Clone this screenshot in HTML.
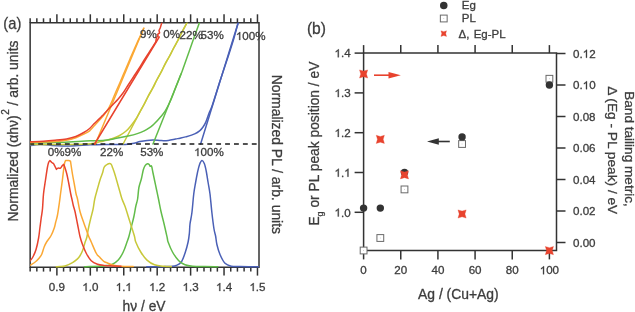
<!DOCTYPE html>
<html><head><meta charset="utf-8"><style>
html,body{margin:0;padding:0;background:#fff;}
svg{display:block;will-change:transform;}
svg text{font-family:"Liberation Sans",sans-serif;stroke:#3d3d3d;stroke-width:0.3px;}
</style></head><body>
<svg width="635" height="312" viewBox="0 0 635 312">
<rect width="635" height="312" fill="#fff"/>
<defs><clipPath id="ca"><rect x="30.15" y="22.70" width="228.85" height="245.50"/></clipPath></defs>
<g stroke="#333333" stroke-width="1.5" fill="none" stroke-linecap="butt">
<path d="M30.15,22.70 L259.00,22.70 L259.00,267.20 L30.15,267.20 Z"/>
<line x1="30.15" y1="267.20" x2="30.15" y2="271.60"/>
<line x1="30.15" y1="22.70" x2="30.15" y2="18.30"/>
<line x1="36.84" y1="267.20" x2="36.84" y2="271.60"/>
<line x1="36.84" y1="22.70" x2="36.84" y2="18.30"/>
<line x1="43.52" y1="267.20" x2="43.52" y2="271.60"/>
<line x1="43.52" y1="22.70" x2="43.52" y2="18.30"/>
<line x1="50.21" y1="267.20" x2="50.21" y2="271.60"/>
<line x1="50.21" y1="22.70" x2="50.21" y2="18.30"/>
<line x1="56.89" y1="267.20" x2="56.89" y2="275.60"/>
<line x1="56.89" y1="22.70" x2="56.89" y2="14.30"/>
<line x1="63.58" y1="267.20" x2="63.58" y2="271.60"/>
<line x1="63.58" y1="22.70" x2="63.58" y2="18.30"/>
<line x1="70.27" y1="267.20" x2="70.27" y2="271.60"/>
<line x1="70.27" y1="22.70" x2="70.27" y2="18.30"/>
<line x1="76.95" y1="267.20" x2="76.95" y2="271.60"/>
<line x1="76.95" y1="22.70" x2="76.95" y2="18.30"/>
<line x1="83.64" y1="267.20" x2="83.64" y2="271.60"/>
<line x1="83.64" y1="22.70" x2="83.64" y2="18.30"/>
<line x1="90.32" y1="267.20" x2="90.32" y2="275.60"/>
<line x1="90.32" y1="22.70" x2="90.32" y2="14.30"/>
<line x1="97.01" y1="267.20" x2="97.01" y2="271.60"/>
<line x1="97.01" y1="22.70" x2="97.01" y2="18.30"/>
<line x1="103.70" y1="267.20" x2="103.70" y2="271.60"/>
<line x1="103.70" y1="22.70" x2="103.70" y2="18.30"/>
<line x1="110.38" y1="267.20" x2="110.38" y2="271.60"/>
<line x1="110.38" y1="22.70" x2="110.38" y2="18.30"/>
<line x1="117.07" y1="267.20" x2="117.07" y2="271.60"/>
<line x1="117.07" y1="22.70" x2="117.07" y2="18.30"/>
<line x1="123.75" y1="267.20" x2="123.75" y2="275.60"/>
<line x1="123.75" y1="22.70" x2="123.75" y2="14.30"/>
<line x1="130.44" y1="267.20" x2="130.44" y2="271.60"/>
<line x1="130.44" y1="22.70" x2="130.44" y2="18.30"/>
<line x1="137.13" y1="267.20" x2="137.13" y2="271.60"/>
<line x1="137.13" y1="22.70" x2="137.13" y2="18.30"/>
<line x1="143.81" y1="267.20" x2="143.81" y2="271.60"/>
<line x1="143.81" y1="22.70" x2="143.81" y2="18.30"/>
<line x1="150.50" y1="267.20" x2="150.50" y2="271.60"/>
<line x1="150.50" y1="22.70" x2="150.50" y2="18.30"/>
<line x1="157.18" y1="267.20" x2="157.18" y2="275.60"/>
<line x1="157.18" y1="22.70" x2="157.18" y2="14.30"/>
<line x1="163.87" y1="267.20" x2="163.87" y2="271.60"/>
<line x1="163.87" y1="22.70" x2="163.87" y2="18.30"/>
<line x1="170.56" y1="267.20" x2="170.56" y2="271.60"/>
<line x1="170.56" y1="22.70" x2="170.56" y2="18.30"/>
<line x1="177.24" y1="267.20" x2="177.24" y2="271.60"/>
<line x1="177.24" y1="22.70" x2="177.24" y2="18.30"/>
<line x1="183.93" y1="267.20" x2="183.93" y2="271.60"/>
<line x1="183.93" y1="22.70" x2="183.93" y2="18.30"/>
<line x1="190.61" y1="267.20" x2="190.61" y2="275.60"/>
<line x1="190.61" y1="22.70" x2="190.61" y2="14.30"/>
<line x1="197.30" y1="267.20" x2="197.30" y2="271.60"/>
<line x1="197.30" y1="22.70" x2="197.30" y2="18.30"/>
<line x1="203.99" y1="267.20" x2="203.99" y2="271.60"/>
<line x1="203.99" y1="22.70" x2="203.99" y2="18.30"/>
<line x1="210.67" y1="267.20" x2="210.67" y2="271.60"/>
<line x1="210.67" y1="22.70" x2="210.67" y2="18.30"/>
<line x1="217.36" y1="267.20" x2="217.36" y2="271.60"/>
<line x1="217.36" y1="22.70" x2="217.36" y2="18.30"/>
<line x1="224.04" y1="267.20" x2="224.04" y2="275.60"/>
<line x1="224.04" y1="22.70" x2="224.04" y2="14.30"/>
<line x1="230.73" y1="267.20" x2="230.73" y2="271.60"/>
<line x1="230.73" y1="22.70" x2="230.73" y2="18.30"/>
<line x1="237.42" y1="267.20" x2="237.42" y2="271.60"/>
<line x1="237.42" y1="22.70" x2="237.42" y2="18.30"/>
<line x1="244.10" y1="267.20" x2="244.10" y2="271.60"/>
<line x1="244.10" y1="22.70" x2="244.10" y2="18.30"/>
<line x1="250.79" y1="267.20" x2="250.79" y2="271.60"/>
<line x1="250.79" y1="22.70" x2="250.79" y2="18.30"/>
<line x1="257.47" y1="267.20" x2="257.47" y2="275.60"/>
<line x1="257.47" y1="22.70" x2="257.47" y2="14.30"/>
</g>
<g clip-path="url(#ca)" fill="none" stroke-width="1.50" stroke-linejoin="round" stroke-linecap="round">
<path d="M146.70,266.70 C148.92,266.70 156.95,266.72 160.00,266.70 C163.05,266.68 163.12,266.65 165.00,266.60 C166.88,266.55 169.38,266.58 171.25,266.40 C173.12,266.22 174.58,266.23 176.25,265.50 C177.92,264.77 179.79,264.04 181.25,262.00 C182.71,259.96 183.86,256.58 185.00,253.25 C186.14,249.92 187.37,245.38 188.10,242.00 C188.83,238.62 189.08,236.00 189.40,233.00 C189.72,230.00 189.58,227.38 190.00,224.00 C190.42,220.62 191.28,217.75 191.90,212.75 C192.53,207.75 193.13,199.04 193.75,194.00 C194.37,188.96 194.97,186.08 195.60,182.50 C196.22,178.92 196.87,175.42 197.50,172.50 C198.13,169.58 198.67,166.98 199.40,165.00 C200.13,163.02 201.07,160.81 201.90,160.60 C202.73,160.39 203.68,161.97 204.40,163.75 C205.12,165.53 205.63,168.12 206.25,171.25 C206.87,174.38 207.47,178.71 208.10,182.50 C208.72,186.29 209.37,188.96 210.00,194.00 C210.63,199.04 211.23,206.92 211.90,212.75 C212.57,218.58 213.38,225.12 214.00,229.00 C214.62,232.88 215.12,233.42 215.60,236.00 C216.08,238.58 216.17,241.42 216.90,244.50 C217.63,247.58 218.65,251.38 220.00,254.50 C221.35,257.62 223.12,261.30 225.00,263.25 C226.88,265.20 228.75,265.64 231.25,266.20 C233.75,266.76 235.43,266.52 240.00,266.60 C244.57,266.68 255.58,266.68 258.70,266.70" stroke="#4a60b6"/>
<path d="M84.50,266.70 C85.42,266.68 87.42,266.67 90.00,266.60 C92.58,266.53 97.33,266.47 100.00,266.30 C102.67,266.13 104.00,265.90 106.00,265.60 C108.00,265.30 109.96,265.42 112.00,264.50 C114.04,263.58 116.38,262.18 118.25,260.10 C120.12,258.02 121.79,255.02 123.25,252.00 C124.71,248.98 126.06,244.58 127.00,242.00 C127.94,239.42 128.17,239.08 128.90,236.50 C129.63,233.92 130.57,229.83 131.40,226.50 C132.23,223.17 133.18,219.83 133.90,216.50 C134.62,213.17 135.13,209.42 135.75,206.50 C136.37,203.58 137.07,202.17 137.60,199.00 C138.12,195.83 138.27,190.88 138.90,187.50 C139.53,184.12 140.68,181.67 141.40,178.75 C142.12,175.83 142.63,172.19 143.25,170.00 C143.87,167.81 144.38,166.64 145.10,165.60 C145.82,164.56 146.92,163.93 147.60,163.75 C148.28,163.57 148.78,164.08 149.20,164.50 C149.62,164.92 149.70,165.96 150.10,166.25 C150.50,166.54 151.13,165.21 151.60,166.25 C152.07,167.29 152.38,170.00 152.90,172.50 C153.43,175.00 154.13,178.33 154.75,181.25 C155.37,184.17 155.97,187.04 156.60,190.00 C157.22,192.96 157.77,195.42 158.50,199.00 C159.23,202.58 160.07,207.33 161.00,211.50 C161.93,215.67 163.06,219.58 164.10,224.00 C165.14,228.42 166.58,235.00 167.25,238.00 C167.92,241.00 167.22,239.67 168.10,242.00 C168.97,244.33 170.72,248.88 172.50,252.00 C174.28,255.12 176.67,258.62 178.75,260.75 C180.83,262.88 182.71,263.84 185.00,264.75 C187.29,265.66 189.17,265.89 192.50,266.20 C195.83,266.51 200.78,266.52 205.00,266.60 C209.22,266.68 215.67,266.68 217.80,266.70" stroke="#62bc4a"/>
<path d="M56.25,266.70 C56.88,266.68 58.54,266.72 60.00,266.60 C61.46,266.48 62.92,266.67 65.00,266.00 C67.08,265.33 70.42,263.78 72.50,262.60 C74.58,261.42 76.25,260.04 77.50,258.90 C78.75,257.76 79.17,257.11 80.00,255.75 C80.83,254.39 81.67,252.94 82.50,250.75 C83.33,248.56 84.27,244.89 85.00,242.60 C85.73,240.31 86.35,239.27 86.90,237.00 C87.45,234.73 87.68,232.00 88.30,229.00 C88.92,226.00 89.80,222.33 90.60,219.00 C91.40,215.67 92.41,212.33 93.10,209.00 C93.79,205.67 94.02,202.38 94.75,199.00 C95.48,195.62 96.62,191.92 97.50,188.75 C98.38,185.58 99.17,182.61 100.00,180.00 C100.83,177.39 101.83,175.18 102.50,173.10 C103.17,171.02 103.38,168.85 104.00,167.50 C104.62,166.15 105.35,165.67 106.25,165.00 C107.15,164.33 108.57,163.60 109.40,163.50 C110.23,163.40 110.69,163.63 111.25,164.40 C111.81,165.17 112.11,166.33 112.75,168.10 C113.39,169.87 114.29,172.39 115.10,175.00 C115.91,177.61 116.77,180.83 117.60,183.75 C118.43,186.67 119.37,189.96 120.10,192.50 C120.83,195.04 121.17,196.67 122.00,199.00 C122.83,201.33 124.06,203.58 125.10,206.50 C126.14,209.42 127.20,213.17 128.25,216.50 C129.30,219.83 130.36,223.17 131.40,226.50 C132.44,229.83 133.78,233.92 134.50,236.50 C135.22,239.08 134.71,239.42 135.75,242.00 C136.79,244.58 138.88,248.98 140.75,252.00 C142.62,255.02 144.71,257.98 147.00,260.10 C149.29,262.23 151.67,263.72 154.50,264.75 C157.33,265.78 161.20,265.99 164.00,266.30 C166.80,266.61 170.08,266.55 171.30,266.60" stroke="#c8c83a"/>
<path d="M30.15,265.40 C31.04,264.79 33.98,262.98 35.50,261.75 C37.02,260.52 38.21,259.25 39.25,258.00 C40.29,256.75 40.92,256.12 41.75,254.25 C42.58,252.38 43.42,248.83 44.25,246.75 C45.08,244.67 45.61,243.62 46.75,241.75 C47.89,239.88 49.85,237.79 51.10,235.50 C52.35,233.21 53.50,230.17 54.25,228.00 C55.00,225.83 55.06,224.67 55.60,222.50 C56.14,220.33 56.87,218.33 57.50,215.00 C58.13,211.67 58.90,206.00 59.40,202.50 C59.90,199.00 60.00,197.75 60.50,194.00 C61.00,190.25 61.77,184.83 62.40,180.00 C63.02,175.17 63.73,168.23 64.25,165.00 C64.77,161.77 65.50,160.60 65.50,160.60 C65.50,160.60 67.77,160.49 68.60,160.60 C69.43,160.71 70.50,161.25 70.50,161.25 C70.50,161.25 71.78,170.00 72.40,173.75 C73.03,177.50 73.63,180.38 74.25,183.75 C74.87,187.12 75.56,191.46 76.10,194.00 C76.64,196.54 76.85,196.08 77.50,199.00 C78.15,201.92 78.96,207.54 80.00,211.50 C81.04,215.46 82.60,219.42 83.75,222.75 C84.90,226.08 86.07,229.21 86.90,231.50 C87.73,233.79 88.03,234.75 88.75,236.50 C89.47,238.25 90.00,239.21 91.25,242.00 C92.50,244.79 94.79,250.65 96.25,253.25 C97.71,255.85 98.75,256.24 100.00,257.60 C101.25,258.96 102.50,260.50 103.75,261.40 C105.00,262.30 106.12,262.44 107.50,263.00 C108.88,263.56 110.33,264.27 112.00,264.75 C113.67,265.23 115.33,265.62 117.50,265.90 C119.67,266.17 122.37,266.28 125.00,266.40 C127.63,266.52 131.92,266.57 133.30,266.60" stroke="#fba834"/>
<path d="M28.00,262.30 C28.32,262.10 29.07,262.03 29.90,261.10 C30.73,260.18 31.97,258.73 33.00,256.75 C34.03,254.78 35.17,252.38 36.10,249.25 C37.03,246.12 37.97,241.54 38.60,238.00 C39.23,234.46 39.47,231.33 39.90,228.00 C40.33,224.67 40.77,221.21 41.20,218.00 C41.63,214.79 42.12,212.75 42.50,208.75 C42.88,204.75 43.00,198.79 43.50,194.00 C44.00,189.21 44.85,184.42 45.50,180.00 C46.15,175.58 46.88,170.42 47.40,167.50 C47.92,164.58 48.18,163.65 48.60,162.50 C49.02,161.35 49.90,160.60 49.90,160.60 C49.90,160.60 51.13,161.97 51.75,162.50 C52.37,163.03 53.08,163.12 53.60,163.75 C54.12,164.38 54.42,165.31 54.90,166.25 C55.38,167.19 56.50,169.40 56.50,169.40 C56.50,169.40 57.33,168.32 58.00,168.10 C58.67,167.88 59.77,168.52 60.50,168.10 C61.23,167.68 61.88,166.22 62.40,165.60 C62.92,164.98 63.60,164.40 63.60,164.40 C63.60,164.40 64.38,165.94 64.90,167.50 C65.43,169.06 66.13,171.25 66.75,173.75 C67.37,176.25 67.93,179.12 68.60,182.50 C69.27,185.88 70.20,191.25 70.75,194.00 C71.30,196.75 71.48,197.08 71.90,199.00 C72.33,200.92 72.78,203.42 73.30,205.50 C73.82,207.58 74.30,208.42 75.00,211.50 C75.70,214.58 76.67,219.83 77.50,224.00 C78.33,228.17 79.17,233.08 80.00,236.50 C80.83,239.92 81.46,241.71 82.50,244.50 C83.54,247.29 84.79,250.54 86.25,253.25 C87.71,255.96 89.38,258.93 91.25,260.75 C93.12,262.57 95.42,263.43 97.50,264.20 C99.58,264.97 101.33,265.12 103.75,265.40 C106.17,265.68 109.12,265.77 112.00,265.90 C114.88,266.03 119.50,266.15 121.00,266.20" stroke="#e8432e"/>
<path d="M28.00,145.60 C28.38,145.58 29.47,145.55 30.30,145.50 C31.13,145.45 32.05,145.43 33.00,145.30 C33.95,145.17 34.83,144.84 36.00,144.70 C37.17,144.56 38.33,144.45 40.00,144.45 C41.67,144.45 44.00,144.54 46.00,144.70 C48.00,144.86 49.17,145.20 52.00,145.40 C54.83,145.60 59.17,145.85 63.00,145.90 C66.83,145.95 70.50,145.88 75.00,145.70 C79.50,145.52 85.00,145.02 90.00,144.80 C95.00,144.58 100.00,144.47 105.00,144.40 C110.00,144.33 116.17,144.43 120.00,144.40 C123.83,144.37 125.67,144.38 128.00,144.20 C130.33,144.02 132.00,143.73 134.00,143.30 C136.00,142.87 137.82,142.08 140.00,141.60 C142.18,141.12 144.85,140.66 147.10,140.40 C149.35,140.14 151.13,140.02 153.50,140.05 C155.87,140.08 158.82,140.54 161.30,140.60 C163.78,140.66 166.03,140.67 168.40,140.40 C170.77,140.13 173.57,139.37 175.50,139.00 C177.43,138.63 178.33,138.55 180.00,138.20 C181.67,137.85 183.05,137.62 185.50,136.90 C187.95,136.18 192.30,134.95 194.70,133.90 C197.10,132.85 198.48,131.80 199.90,130.60 C201.32,129.40 202.22,128.12 203.20,126.70 C204.18,125.28 204.82,124.40 205.80,122.10 C206.78,119.80 208.00,115.75 209.10,112.90 C210.20,110.05 210.58,110.32 212.40,105.00 C214.22,99.68 217.40,89.00 220.00,81.00 C222.60,73.00 225.67,64.17 228.00,57.00 C230.33,49.83 232.32,43.67 234.00,38.00 C235.68,32.33 237.27,26.00 238.10,23.00 C238.93,20.00 238.85,20.50 239.00,20.00" stroke="#4a60b6"/>
<path d="M200.60,144.00 L238.10,23.00" stroke="#4a60b6"/>
<path d="M28.00,144.40 C33.33,144.40 50.00,144.45 60.00,144.40 C70.00,144.35 81.33,144.53 88.00,144.10 C94.67,143.67 97.17,142.38 100.00,141.80 C102.83,141.22 103.02,141.10 105.00,140.60 C106.98,140.10 109.60,139.57 111.90,138.80 C114.20,138.03 116.48,137.25 118.80,136.00 C121.12,134.75 123.68,133.13 125.80,131.30 C127.92,129.47 129.78,127.10 131.50,125.00 C133.22,122.90 134.75,120.82 136.10,118.70 C137.45,116.58 138.22,114.75 139.60,112.30 C140.98,109.85 142.95,106.72 144.39,104.00 C145.82,101.28 146.79,98.67 148.21,96.00 C149.63,93.33 151.51,90.67 152.93,88.00 C154.35,85.33 155.36,82.67 156.75,80.00 C158.14,77.33 159.90,74.67 161.27,72.00 C162.64,69.33 163.57,66.67 164.98,64.00 C166.38,61.33 168.24,58.67 169.70,56.00 C171.16,53.33 172.30,50.67 173.72,48.00 C175.14,45.33 176.87,42.67 178.24,40.00 C179.61,37.33 180.52,34.83 181.96,32.00 C183.40,29.17 185.81,25.00 186.90,23.00 C187.99,21.00 188.23,20.50 188.49,20.00" stroke="#c8c83a"/>
<path d="M123.10,144.00 L186.90,23.00" stroke="#c8c83a"/>
<path d="M28.00,143.20 C28.38,143.18 25.17,143.25 30.30,143.10 C35.43,142.95 50.22,142.62 58.80,142.30 C67.38,141.98 74.10,141.55 81.80,141.20 C89.50,140.85 99.22,140.68 105.00,140.20 C110.78,139.72 112.65,139.00 116.50,138.30 C120.35,137.60 124.63,136.78 128.10,136.00 C131.57,135.22 134.62,134.47 137.30,133.60 C139.98,132.73 142.08,131.85 144.20,130.80 C146.32,129.75 148.40,128.38 150.00,127.30 C151.60,126.22 151.93,126.15 153.80,124.30 C155.67,122.45 159.23,118.53 161.20,116.20 C163.17,113.87 164.00,113.00 165.60,110.30 C167.20,107.60 168.95,104.22 170.80,100.00 C172.65,95.78 174.73,90.00 176.70,85.00 C178.67,80.00 180.73,75.00 182.60,70.00 C184.47,65.00 186.18,59.87 187.90,55.00 C189.62,50.13 191.48,44.80 192.90,40.80 C194.32,36.80 195.33,33.98 196.40,31.00 C197.47,28.02 198.65,24.73 199.30,22.90 C199.95,21.07 200.13,20.48 200.30,20.00" stroke="#62bc4a"/>
<path d="M153.00,144.00 L181.00,74.00" stroke="#62bc4a"/>
<line x1="30.15" y1="144.0" x2="259.00" y2="144.0" stroke="#1a1a1a" stroke-width="1.5" stroke-dasharray="4.85 4.05" stroke-dashoffset="0.85" stroke-linecap="butt"/>
<path d="M28.00,142.45 C28.38,142.44 25.80,142.56 30.30,142.40 C34.80,142.24 49.05,141.87 55.00,141.50 C60.95,141.13 62.53,140.83 66.00,140.20 C69.47,139.57 72.83,138.70 75.80,137.70 C78.77,136.70 81.50,135.35 83.80,134.20 C86.10,133.05 87.90,132.15 89.60,130.80 C91.30,129.45 92.31,127.93 94.00,126.10 C95.69,124.27 98.00,121.78 99.75,119.80 C101.50,117.82 103.03,116.12 104.50,114.20 C105.97,112.28 107.43,110.28 108.60,108.30 C109.77,106.32 110.68,104.10 111.50,102.30 C112.32,100.50 112.75,99.30 113.50,97.50 C114.25,95.70 114.92,94.00 116.00,91.50 C117.08,89.00 118.67,85.58 120.00,82.50 C121.33,79.42 122.83,75.75 124.00,73.00 C125.17,70.25 126.00,68.33 127.00,66.00 C128.00,63.67 129.00,61.33 130.00,59.00 C131.00,56.67 131.83,54.67 133.00,52.00 C134.17,49.33 135.75,45.75 137.00,43.00 C138.25,40.25 139.38,37.95 140.50,35.50 C141.62,33.05 143.21,29.50 143.75,28.30" stroke="#fba834"/>
<path d="M95.30,144.00 L143.75,28.30" stroke="#fba834"/>
<path d="M28.00,141.85 C28.38,141.84 27.73,141.89 30.30,141.80 C32.87,141.71 39.28,141.55 43.40,141.30 C47.52,141.05 51.15,140.70 55.00,140.30 C58.85,139.90 63.03,139.53 66.50,138.90 C69.97,138.27 72.92,137.57 75.80,136.50 C78.68,135.43 81.50,133.83 83.80,132.50 C86.10,131.17 87.90,129.95 89.60,128.50 C91.30,127.05 92.31,125.48 94.00,123.80 C95.69,122.12 98.08,120.05 99.75,118.40 C101.42,116.75 102.04,115.97 104.00,113.90 C105.96,111.83 109.13,108.48 111.50,106.00 C113.87,103.52 116.16,101.33 118.20,99.00 C120.24,96.67 122.03,94.42 123.75,92.00 C125.47,89.58 126.83,87.08 128.50,84.50 C130.17,81.92 132.00,79.17 133.75,76.50 C135.50,73.83 137.26,71.25 139.00,68.50 C140.74,65.75 142.37,62.92 144.20,60.00 C146.03,57.08 148.07,54.03 150.00,51.00 C151.93,47.97 154.83,43.33 155.80,41.80" stroke="#e8432e"/>
<path d="M155.80,41.80 L156.40,37.50 L158.20,36.20 L157.40,34.60 L159.60,32.80 L159.00,30.50 L160.20,28.00 L161.50,23.80 L162.50,20.00" stroke="#e8432e"/>
<path d="M94.60,144.00 L159.20,37.00" stroke="#e8432e"/>
</g>
<text x="56.89" y="291.00" font-size="11.60" text-anchor="middle" fill="#3d3d3d" >0.9</text>
<text x="90.32" y="291.00" font-size="11.60" text-anchor="middle" fill="#3d3d3d" ><tspan style="fill:none;stroke:none">1</tspan>.0</text><path transform="translate(82.261,291.000) scale(0.00566,-0.00566)" d="M763,0 L583,0 L583,1100 C540,1060 483,1020 413,981 C343,942 280,913 223,893 L223,1060 C324,1105 412,1160 487,1225 C562,1290 615,1350 646,1409 L763,1409 Z" fill="#3d3d3d" stroke="#3d3d3d" stroke-width="53.0"/>
<text x="123.75" y="291.00" font-size="11.60" text-anchor="middle" fill="#3d3d3d" ><tspan style="fill:none;stroke:none">1</tspan>.<tspan style="fill:none;stroke:none">1</tspan></text><path transform="translate(115.691,291.000) scale(0.00566,-0.00566)" d="M763,0 L583,0 L583,1100 C540,1060 483,1020 413,981 C343,942 280,913 223,893 L223,1060 C324,1105 412,1160 487,1225 C562,1290 615,1350 646,1409 L763,1409 Z" fill="#3d3d3d" stroke="#3d3d3d" stroke-width="53.0"/><path transform="translate(125.365,291.000) scale(0.00566,-0.00566)" d="M763,0 L583,0 L583,1100 C540,1060 483,1020 413,981 C343,942 280,913 223,893 L223,1060 C324,1105 412,1160 487,1225 C562,1290 615,1350 646,1409 L763,1409 Z" fill="#3d3d3d" stroke="#3d3d3d" stroke-width="53.0"/>
<text x="157.18" y="291.00" font-size="11.60" text-anchor="middle" fill="#3d3d3d" ><tspan style="fill:none;stroke:none">1</tspan>.2</text><path transform="translate(149.121,291.000) scale(0.00566,-0.00566)" d="M763,0 L583,0 L583,1100 C540,1060 483,1020 413,981 C343,942 280,913 223,893 L223,1060 C324,1105 412,1160 487,1225 C562,1290 615,1350 646,1409 L763,1409 Z" fill="#3d3d3d" stroke="#3d3d3d" stroke-width="53.0"/>
<text x="190.61" y="291.00" font-size="11.60" text-anchor="middle" fill="#3d3d3d" ><tspan style="fill:none;stroke:none">1</tspan>.3</text><path transform="translate(182.551,291.000) scale(0.00566,-0.00566)" d="M763,0 L583,0 L583,1100 C540,1060 483,1020 413,981 C343,942 280,913 223,893 L223,1060 C324,1105 412,1160 487,1225 C562,1290 615,1350 646,1409 L763,1409 Z" fill="#3d3d3d" stroke="#3d3d3d" stroke-width="53.0"/>
<text x="224.04" y="291.00" font-size="11.60" text-anchor="middle" fill="#3d3d3d" ><tspan style="fill:none;stroke:none">1</tspan>.4</text><path transform="translate(215.981,291.000) scale(0.00566,-0.00566)" d="M763,0 L583,0 L583,1100 C540,1060 483,1020 413,981 C343,942 280,913 223,893 L223,1060 C324,1105 412,1160 487,1225 C562,1290 615,1350 646,1409 L763,1409 Z" fill="#3d3d3d" stroke="#3d3d3d" stroke-width="53.0"/>
<text x="257.47" y="291.00" font-size="11.60" text-anchor="middle" fill="#3d3d3d" ><tspan style="fill:none;stroke:none">1</tspan>.5</text><path transform="translate(249.411,291.000) scale(0.00566,-0.00566)" d="M763,0 L583,0 L583,1100 C540,1060 483,1020 413,981 C343,942 280,913 223,893 L223,1060 C324,1105 412,1160 487,1225 C562,1290 615,1350 646,1409 L763,1409 Z" fill="#3d3d3d" stroke="#3d3d3d" stroke-width="53.0"/>
<text x="144.10" y="310.90" font-size="13.80" text-anchor="middle" fill="#3d3d3d" >h&#957; / eV</text>
<text x="140.00" y="38.20" font-size="11.60" text-anchor="start" fill="#3d3d3d" >9%</text>
<text x="163.20" y="38.20" font-size="11.60" text-anchor="start" fill="#3d3d3d" >0%</text>
<text x="179.60" y="38.50" font-size="11.60" text-anchor="start" fill="#3d3d3d" >22%</text>
<text x="200.60" y="39.20" font-size="11.60" text-anchor="start" fill="#3d3d3d" >53%</text>
<text x="235.90" y="40.00" font-size="11.60" text-anchor="start" fill="#3d3d3d" ><tspan style="fill:none;stroke:none">1</tspan>00%</text><path transform="translate(235.900,40.000) scale(0.00566,-0.00566)" d="M763,0 L583,0 L583,1100 C540,1060 483,1020 413,981 C343,942 280,913 223,893 L223,1060 C324,1105 412,1160 487,1225 C562,1290 615,1350 646,1409 L763,1409 Z" fill="#3d3d3d" stroke="#3d3d3d" stroke-width="53.0"/>
<text x="47.70" y="156.10" font-size="11.60" text-anchor="start" fill="#3d3d3d" >0%9%</text>
<text x="100.00" y="156.10" font-size="11.60" text-anchor="start" fill="#3d3d3d" >22%</text>
<text x="140.20" y="156.10" font-size="11.60" text-anchor="start" fill="#3d3d3d" >53%</text>
<text x="194.10" y="156.10" font-size="11.60" text-anchor="start" fill="#3d3d3d" ><tspan style="fill:none;stroke:none">1</tspan>00%</text><path transform="translate(194.100,156.100) scale(0.00566,-0.00566)" d="M763,0 L583,0 L583,1100 C540,1060 483,1020 413,981 C343,942 280,913 223,893 L223,1060 C324,1105 412,1160 487,1225 C562,1290 615,1350 646,1409 L763,1409 Z" fill="#3d3d3d" stroke="#3d3d3d" stroke-width="53.0"/>
<text transform="translate(3.3,29.1) scale(0.85,1)" font-size="17.4" fill="#3d3d3d">(a)</text>
<text transform="translate(17.9,131.0) rotate(-90)" font-size="13.9" text-anchor="middle" fill="#3d3d3d">Normalized (&#945;h&#957;)<tspan font-size="10" dx="0.6" dy="-9.1">2</tspan><tspan dy="9.1"> / arb. units</tspan></text>
<text transform="translate(272.3,154.35) rotate(90)" font-size="13.9" text-anchor="middle" fill="#3d3d3d">Normalized PL / arb. units</text>
<g stroke="#333333" stroke-width="1.5" fill="none" stroke-linecap="butt">
<path d="M363.60,53.10 L556.50,53.10 L556.50,250.60 L363.60,250.60 Z"/>
<line x1="363.60" y1="250.60" x2="363.60" y2="259.40"/>
<line x1="363.60" y1="53.10" x2="363.60" y2="45.10"/>
<line x1="400.76" y1="250.60" x2="400.76" y2="259.40"/>
<line x1="400.76" y1="53.10" x2="400.76" y2="45.10"/>
<line x1="437.92" y1="250.60" x2="437.92" y2="259.40"/>
<line x1="437.92" y1="53.10" x2="437.92" y2="45.10"/>
<line x1="475.08" y1="250.60" x2="475.08" y2="259.40"/>
<line x1="475.08" y1="53.10" x2="475.08" y2="45.10"/>
<line x1="512.24" y1="250.60" x2="512.24" y2="259.40"/>
<line x1="512.24" y1="53.10" x2="512.24" y2="45.10"/>
<line x1="549.40" y1="250.60" x2="549.40" y2="259.40"/>
<line x1="549.40" y1="53.10" x2="549.40" y2="45.10"/>
<line x1="363.60" y1="212.30" x2="354.60" y2="212.30"/>
<line x1="363.60" y1="172.50" x2="354.60" y2="172.50"/>
<line x1="363.60" y1="132.70" x2="354.60" y2="132.70"/>
<line x1="363.60" y1="92.90" x2="354.60" y2="92.90"/>
<line x1="363.60" y1="53.10" x2="354.60" y2="53.10"/>
<line x1="556.50" y1="242.50" x2="565.50" y2="242.50"/>
<line x1="556.50" y1="211.00" x2="565.50" y2="211.00"/>
<line x1="556.50" y1="179.50" x2="565.50" y2="179.50"/>
<line x1="556.50" y1="148.00" x2="565.50" y2="148.00"/>
<line x1="556.50" y1="116.50" x2="565.50" y2="116.50"/>
<line x1="556.50" y1="85.00" x2="565.50" y2="85.00"/>
<line x1="556.50" y1="53.50" x2="565.50" y2="53.50"/>
</g>
<text x="363.60" y="274.30" font-size="11.60" text-anchor="middle" fill="#3d3d3d" >0</text>
<text x="400.76" y="274.30" font-size="11.60" text-anchor="middle" fill="#3d3d3d" >20</text>
<text x="437.92" y="274.30" font-size="11.60" text-anchor="middle" fill="#3d3d3d" >40</text>
<text x="475.08" y="274.30" font-size="11.60" text-anchor="middle" fill="#3d3d3d" >60</text>
<text x="512.24" y="274.30" font-size="11.60" text-anchor="middle" fill="#3d3d3d" >80</text>
<text x="549.40" y="274.30" font-size="11.60" text-anchor="middle" fill="#3d3d3d" ><tspan style="fill:none;stroke:none">1</tspan>00</text><path transform="translate(539.723,274.300) scale(0.00566,-0.00566)" d="M763,0 L583,0 L583,1100 C540,1060 483,1020 413,981 C343,942 280,913 223,893 L223,1060 C324,1105 412,1160 487,1225 C562,1290 615,1350 646,1409 L763,1409 Z" fill="#3d3d3d" stroke="#3d3d3d" stroke-width="53.0"/>
<text x="350.60" y="216.50" font-size="11.60" text-anchor="end" fill="#3d3d3d" ><tspan style="fill:none;stroke:none">1</tspan>.0</text><path transform="translate(334.474,216.500) scale(0.00566,-0.00566)" d="M763,0 L583,0 L583,1100 C540,1060 483,1020 413,981 C343,942 280,913 223,893 L223,1060 C324,1105 412,1160 487,1225 C562,1290 615,1350 646,1409 L763,1409 Z" fill="#3d3d3d" stroke="#3d3d3d" stroke-width="53.0"/>
<text x="350.60" y="176.70" font-size="11.60" text-anchor="end" fill="#3d3d3d" ><tspan style="fill:none;stroke:none">1</tspan>.<tspan style="fill:none;stroke:none">1</tspan></text><path transform="translate(334.474,176.700) scale(0.00566,-0.00566)" d="M763,0 L583,0 L583,1100 C540,1060 483,1020 413,981 C343,942 280,913 223,893 L223,1060 C324,1105 412,1160 487,1225 C562,1290 615,1350 646,1409 L763,1409 Z" fill="#3d3d3d" stroke="#3d3d3d" stroke-width="53.0"/><path transform="translate(344.149,176.700) scale(0.00566,-0.00566)" d="M763,0 L583,0 L583,1100 C540,1060 483,1020 413,981 C343,942 280,913 223,893 L223,1060 C324,1105 412,1160 487,1225 C562,1290 615,1350 646,1409 L763,1409 Z" fill="#3d3d3d" stroke="#3d3d3d" stroke-width="53.0"/>
<text x="350.60" y="136.90" font-size="11.60" text-anchor="end" fill="#3d3d3d" ><tspan style="fill:none;stroke:none">1</tspan>.2</text><path transform="translate(334.474,136.900) scale(0.00566,-0.00566)" d="M763,0 L583,0 L583,1100 C540,1060 483,1020 413,981 C343,942 280,913 223,893 L223,1060 C324,1105 412,1160 487,1225 C562,1290 615,1350 646,1409 L763,1409 Z" fill="#3d3d3d" stroke="#3d3d3d" stroke-width="53.0"/>
<text x="350.60" y="97.10" font-size="11.60" text-anchor="end" fill="#3d3d3d" ><tspan style="fill:none;stroke:none">1</tspan>.3</text><path transform="translate(334.474,97.100) scale(0.00566,-0.00566)" d="M763,0 L583,0 L583,1100 C540,1060 483,1020 413,981 C343,942 280,913 223,893 L223,1060 C324,1105 412,1160 487,1225 C562,1290 615,1350 646,1409 L763,1409 Z" fill="#3d3d3d" stroke="#3d3d3d" stroke-width="53.0"/>
<text x="350.60" y="57.30" font-size="11.60" text-anchor="end" fill="#3d3d3d" ><tspan style="fill:none;stroke:none">1</tspan>.4</text><path transform="translate(334.474,57.300) scale(0.00566,-0.00566)" d="M763,0 L583,0 L583,1100 C540,1060 483,1020 413,981 C343,942 280,913 223,893 L223,1060 C324,1105 412,1160 487,1225 C562,1290 615,1350 646,1409 L763,1409 Z" fill="#3d3d3d" stroke="#3d3d3d" stroke-width="53.0"/>
<text x="573.00" y="246.70" font-size="11.60" text-anchor="start" fill="#3d3d3d" >0.00</text>
<text x="573.00" y="215.20" font-size="11.60" text-anchor="start" fill="#3d3d3d" >0.02</text>
<text x="573.00" y="183.70" font-size="11.60" text-anchor="start" fill="#3d3d3d" >0.04</text>
<text x="573.00" y="152.20" font-size="11.60" text-anchor="start" fill="#3d3d3d" >0.06</text>
<text x="573.00" y="120.70" font-size="11.60" text-anchor="start" fill="#3d3d3d" >0.08</text>
<text x="573.00" y="89.20" font-size="11.60" text-anchor="start" fill="#3d3d3d" >0.<tspan style="fill:none;stroke:none">1</tspan>0</text><path transform="translate(582.674,89.200) scale(0.00566,-0.00566)" d="M763,0 L583,0 L583,1100 C540,1060 483,1020 413,981 C343,942 280,913 223,893 L223,1060 C324,1105 412,1160 487,1225 C562,1290 615,1350 646,1409 L763,1409 Z" fill="#3d3d3d" stroke="#3d3d3d" stroke-width="53.0"/>
<text x="573.00" y="57.70" font-size="11.60" text-anchor="start" fill="#3d3d3d" >0.<tspan style="fill:none;stroke:none">1</tspan>2</text><path transform="translate(582.674,57.700) scale(0.00566,-0.00566)" d="M763,0 L583,0 L583,1100 C540,1060 483,1020 413,981 C343,942 280,913 223,893 L223,1060 C324,1105 412,1160 487,1225 C562,1290 615,1350 646,1409 L763,1409 Z" fill="#3d3d3d" stroke="#3d3d3d" stroke-width="53.0"/>
<text x="458.40" y="298.50" font-size="13.90" text-anchor="middle" fill="#3d3d3d" >Ag / (Cu+Ag)</text>
<text transform="translate(306.9,33.6) scale(0.93,1)" font-size="16.8" fill="#3d3d3d">(b)</text>
<text transform="translate(319.0,143.6) rotate(-90)" font-size="13.8" text-anchor="middle" fill="#3d3d3d">E<tspan font-size="9" dy="3.5">g</tspan><tspan dy="-3.5"> or PL peak position / eV</tspan></text>
<text transform="translate(624.9,149.0) rotate(90)" font-size="13.6" text-anchor="middle" fill="#3d3d3d">Band tailing metric,</text>
<text transform="translate(607.8,150.2) rotate(90)" font-size="13.7" text-anchor="middle" fill="#3d3d3d">&#916; (Eg - PL peak) / eV</text>
<rect x="360.20" y="247.11" width="6.80" height="6.80" fill="#fff" stroke="#6a6a6a" stroke-width="1"/><rect x="363.20" y="250.11" width="0.8" height="0.8" fill="#bbb"/>
<rect x="376.92" y="234.61" width="6.80" height="6.80" fill="#fff" stroke="#6a6a6a" stroke-width="1"/><rect x="379.92" y="237.61" width="0.8" height="0.8" fill="#bbb"/>
<rect x="401.08" y="186.01" width="6.80" height="6.80" fill="#fff" stroke="#6a6a6a" stroke-width="1"/><rect x="404.08" y="189.01" width="0.8" height="0.8" fill="#bbb"/>
<rect x="458.67" y="140.60" width="6.80" height="6.80" fill="#fff" stroke="#6a6a6a" stroke-width="1"/><rect x="461.67" y="143.60" width="0.8" height="0.8" fill="#bbb"/>
<rect x="546.00" y="75.37" width="6.80" height="6.80" fill="#fff" stroke="#6a6a6a" stroke-width="1"/><rect x="549.00" y="78.37" width="0.8" height="0.8" fill="#bbb"/>
<circle cx="363.60" cy="208.12" r="3.70" fill="#333"/>
<circle cx="380.32" cy="208.12" r="3.70" fill="#333"/>
<circle cx="404.48" cy="172.50" r="3.70" fill="#333"/>
<circle cx="462.07" cy="136.92" r="3.70" fill="#333"/>
<circle cx="549.40" cy="84.94" r="3.70" fill="#333"/>
<path d="M359.50,69.88 L363.60,71.10 L367.70,69.88 L366.47,73.97 L367.70,78.07 L363.60,76.84 L359.50,78.07 L360.73,73.97 Z" fill="#e8432e" stroke="#e8432e" stroke-width="0.3" stroke-linejoin="round"/>
<path d="M376.22,135.24 L380.32,136.47 L384.42,135.24 L383.19,139.34 L384.42,143.44 L380.32,142.21 L376.22,143.44 L377.45,139.34 Z" fill="#e8432e" stroke="#e8432e" stroke-width="0.3" stroke-linejoin="round"/>
<path d="M400.38,170.68 L404.48,171.91 L408.58,170.68 L407.35,174.78 L408.58,178.88 L404.48,177.65 L400.38,178.88 L401.61,174.78 Z" fill="#e8432e" stroke="#e8432e" stroke-width="0.3" stroke-linejoin="round"/>
<path d="M457.97,209.89 L462.07,211.12 L466.17,209.89 L464.94,213.99 L466.17,218.09 L462.07,216.86 L457.97,218.09 L459.20,213.99 Z" fill="#e8432e" stroke="#e8432e" stroke-width="0.3" stroke-linejoin="round"/>
<path d="M545.30,246.43 L549.40,247.66 L553.50,246.43 L552.27,250.53 L553.50,254.63 L549.40,253.40 L545.30,254.63 L546.53,250.53 Z" fill="#e8432e" stroke="#e8432e" stroke-width="0.3" stroke-linejoin="round"/>
<line x1="374" y1="75.2" x2="390" y2="75.2" stroke="#e8432e" stroke-width="1.6"/>
<path d="M388.5,72 L400.8,75.2 L388.5,78.4 Z" fill="#e8432e"/>
<line x1="437" y1="141.5" x2="449.8" y2="141.5" stroke="#333" stroke-width="1.6"/>
<path d="M438.8,138.3 L427,141.5 L438.8,144.7 Z" fill="#333"/>
<circle cx="443.75" cy="5.60" r="3.75" fill="#333"/>
<text x="461.8" y="9.1" font-size="11.5" fill="#3d3d3d">Eg</text>
<rect x="440.35" y="15.10" width="6.80" height="6.80" fill="#fff" stroke="#6a6a6a" stroke-width="1"/><rect x="443.35" y="18.10" width="0.8" height="0.8" fill="#bbb"/>
<text x="461.8" y="21.8" font-size="11.5" fill="#3d3d3d">PL</text>
<path d="M440.95,30.80 L443.75,31.64 L446.55,30.80 L445.71,33.60 L446.55,36.40 L443.75,35.56 L440.95,36.40 L441.79,33.60 Z" fill="#e8432e" stroke="#e8432e" stroke-width="0.3" stroke-linejoin="round"/>
<text x="458.6" y="37.6" font-size="11.5" word-spacing="1.0" fill="#3d3d3d">&#916;, Eg-PL</text>
</svg>
</body></html>
